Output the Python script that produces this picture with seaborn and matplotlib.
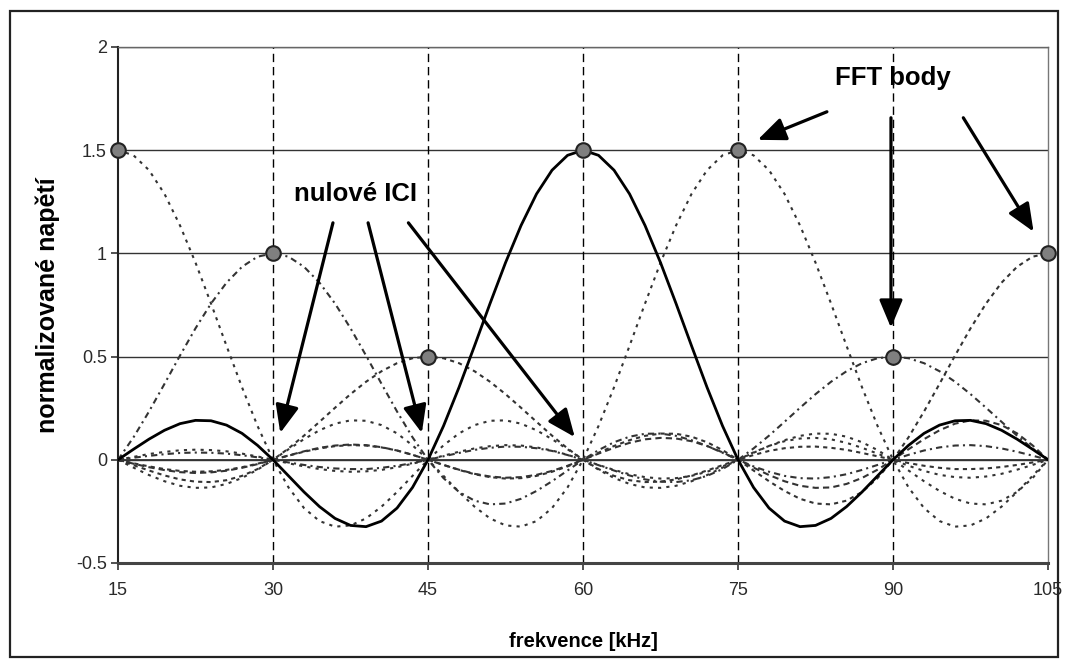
import matplotlib
matplotlib.use("Agg")
import matplotlib.pyplot as plt
import seaborn as sns
import pandas as pd
from matplotlib.patches import Rectangle

sns.set_style("white")
plt.rcParams['font.family'] = ['Liberation Sans', 'DejaVu Sans']
plt.rcParams['text.color'] = 'black'

# frekvence [kHz]
freq = [15, 16.5, 18, 19.5, 21, 22.5, 24, 25.5, 27, 28.5, 30,
        31.5, 33, 34.5, 36, 37.5, 39, 40.5, 42, 43.5, 45,
        46.5, 48, 49.5, 51, 52.5, 54, 55.5, 57, 58.5, 60,
        61.5, 63, 64.5, 66, 67.5, 69, 70.5, 72, 73.5, 75,
        76.5, 78, 79.5, 81, 82.5, 84, 85.5, 87, 88.5, 90,
        91.5, 93, 94.5, 96, 97.5, 99, 100.5, 102, 103.5, 105]

# subnosne
c15 = [1.5, 1.475, 1.403, 1.288, 1.135, 0.955, 0.757, 0.552, 0.351, 0.164, 0,
       -0.134, -0.234, -0.297, -0.324, -0.318, -0.284, -0.227, -0.156, -0.078, 0,
       0.070, 0.128, 0.168, 0.189, 0.191, 0.175, 0.143, 0.100, 0.051, 0,
       -0.048, -0.088, -0.117, -0.134, -0.136, -0.126, -0.104, -0.074, -0.038, 0,
       0.036, 0.067, 0.090, 0.103, 0.106, 0.099, 0.082, 0.058, 0.030, 0,
       -0.029, -0.054, -0.073, -0.084, -0.087, -0.081, -0.068, -0.048, -0.025, 0]
c30 = [0, 0.109, 0.234, 0.368, 0.505, 0.637, 0.757, 0.858, 0.935, 0.984, 1.0,
       0.984, 0.935, 0.858, 0.757, 0.637, 0.505, 0.368, 0.234, 0.109, 0,
       -0.089, -0.156, -0.198, -0.216, -0.212, -0.189, -0.151, -0.104, -0.052, 0,
       0.047, 0.085, 0.112, 0.126, 0.127, 0.116, 0.095, 0.067, 0.034, 0,
       -0.032, -0.058, -0.078, -0.089, -0.091, -0.084, -0.070, -0.049, -0.025, 0,
       0.024, 0.045, 0.060, 0.069, 0.071, 0.066, 0.055, 0.039, 0.020, 0]
c45 = [0, -0.026, -0.052, -0.076, -0.095, -0.106, -0.108, -0.099, -0.078, -0.045, 0,
       0.055, 0.117, 0.184, 0.252, 0.318, 0.378, 0.429, 0.468, 0.492, 0.5,
       0.492, 0.468, 0.429, 0.378, 0.318, 0.252, 0.184, 0.117, 0.055, 0,
       -0.045, -0.078, -0.099, -0.108, -0.106, -0.095, -0.076, -0.052, -0.026, 0,
       0.023, 0.043, 0.056, 0.063, 0.064, 0.058, 0.048, 0.033, 0.017, 0,
       -0.016, -0.029, -0.039, -0.045, -0.045, -0.042, -0.035, -0.025, -0.013, 0]
c60 = [0, 0.051, 0.100, 0.143, 0.175, 0.191, 0.189, 0.168, 0.128, 0.070, 0,
       -0.078, -0.156, -0.227, -0.284, -0.318, -0.324, -0.297, -0.234, -0.134, 0,
       0.164, 0.351, 0.552, 0.757, 0.955, 1.135, 1.288, 1.403, 1.475, 1.5,
       1.475, 1.403, 1.288, 1.135, 0.955, 0.757, 0.552, 0.351, 0.164, 0,
       -0.134, -0.234, -0.297, -0.324, -0.318, -0.284, -0.227, -0.156, -0.078, 0,
       0.070, 0.128, 0.168, 0.189, 0.191, 0.175, 0.143, 0.100, 0.051, 0]
c75 = [0, -0.038, -0.074, -0.104, -0.126, -0.136, -0.134, -0.117, -0.088, -0.048, 0,
       0.051, 0.100, 0.143, 0.175, 0.191, 0.189, 0.168, 0.128, 0.070, 0,
       -0.078, -0.156, -0.227, -0.284, -0.318, -0.324, -0.297, -0.234, -0.134, 0,
       0.164, 0.351, 0.552, 0.757, 0.955, 1.135, 1.288, 1.403, 1.475, 1.5,
       1.475, 1.403, 1.288, 1.135, 0.955, 0.757, 0.552, 0.351, 0.164, 0,
       -0.134, -0.234, -0.297, -0.324, -0.318, -0.284, -0.227, -0.156, -0.078, 0]
c90 = [0, 0.010, 0.019, 0.027, 0.033, 0.035, 0.034, 0.030, 0.022, 0.012, 0,
       -0.013, -0.025, -0.035, -0.042, -0.045, -0.045, -0.039, -0.029, -0.016, 0,
       0.017, 0.033, 0.048, 0.058, 0.064, 0.063, 0.056, 0.043, 0.023, 0,
       -0.026, -0.052, -0.076, -0.095, -0.106, -0.108, -0.099, -0.078, -0.045, 0,
       0.055, 0.117, 0.184, 0.252, 0.318, 0.378, 0.429, 0.468, 0.492, 0.5,
       0.492, 0.468, 0.429, 0.378, 0.318, 0.252, 0.184, 0.117, 0.055, 0]
c105 = [0, -0.017, -0.032, -0.045, -0.054, -0.058, -0.056, -0.049, -0.036, -0.019, 0,
        0.020, 0.039, 0.055, 0.066, 0.071, 0.069, 0.060, 0.045, 0.024, 0,
        -0.025, -0.049, -0.070, -0.084, -0.091, -0.089, -0.078, -0.058, -0.032, 0,
        0.034, 0.067, 0.095, 0.116, 0.127, 0.126, 0.112, 0.085, 0.047, 0,
        -0.052, -0.104, -0.151, -0.189, -0.212, -0.216, -0.198, -0.156, -0.089, 0,
        0.109, 0.234, 0.368, 0.505, 0.637, 0.757, 0.858, 0.935, 0.984, 1.0]
c120 = [0, 0.014, 0.028, 0.038, 0.046, 0.049, 0.047, 0.041, 0.030, 0.016, 0,
        -0.017, -0.032, -0.045, -0.054, -0.058, -0.056, -0.049, -0.036, -0.019, 0,
        0.020, 0.039, 0.055, 0.066, 0.071, 0.069, 0.060, 0.045, 0.024, 0,
        -0.025, -0.049, -0.070, -0.084, -0.091, -0.089, -0.078, -0.058, -0.032, 0,
        0.034, 0.067, 0.095, 0.116, 0.127, 0.126, 0.112, 0.085, 0.047, 0,
        -0.052, -0.104, -0.151, -0.189, -0.212, -0.216, -0.198, -0.156, -0.089, 0]
c135 = [0, -0.019, -0.036, -0.050, -0.060, -0.064, -0.061, -0.053, -0.039, -0.021, 0,
        0.021, 0.041, 0.058, 0.069, 0.074, 0.071, 0.061, 0.045, 0.024, 0,
        -0.025, -0.048, -0.068, -0.081, -0.087, -0.084, -0.073, -0.054, -0.029, 0,
        0.030, 0.058, 0.082, 0.099, 0.106, 0.103, 0.090, 0.067, 0.036, 0,
        -0.038, -0.074, -0.104, -0.126, -0.136, -0.134, -0.117, -0.088, -0.048, 0,
        0.051, 0.100, 0.143, 0.175, 0.191, 0.189, 0.168, 0.128, 0.070, 0]

# FFT body (vrcholy)
peak_f = [15, 30, 45, 60, 75, 90, 105]
peak_v = [1.5, 1.0, 0.5, 1.5, 1.5, 0.5, 1.0]

x_ticks = [15, 30, 45, 60, 75, 90, 105]
y_ticks = [-0.5, 0, 0.5, 1, 1.5, 2]
y_labels = ['-0.5', '0', '0.5', '1', '1.5', '2']
v_lines = [30, 45, 60, 75, 90]

dotted = {
    'c15': (c15, (0, (1.5, 2.5))),
    'c30': (c30, (0, (3, 2, 1, 2))),
    'c45': (c45, (0, (2, 2))),
    'c75': (c75, (0, (1.5, 2.5))),
    'c90': (c90, (0, (3, 2, 1, 2))),
    'c105': (c105, (0, (2, 2))),
    'c120': (c120, (0, (1.5, 2.5))),
    'c135': (c135, (0, (3, 2))),
}

fig = plt.figure(figsize=(10.69, 6.68), dpi=100)
ax = fig.add_axes([0.1104, 0.1572, 0.870, 0.7725])

# ramecek kolem celeho obrazku
fig.patches.append(Rectangle((0.0094, 0.0165), 0.9804, 0.967, transform=fig.transFigure,
                             fill=False, edgecolor='#222222', lw=1.6))

for name, (vals, ls) in dotted.items():
    df = pd.DataFrame({'f': freq, 'u': vals})
    sns.lineplot(data=df, x='f', y='u', ax=ax, color='#333333', lw=1.5,
                 linestyle=ls, zorder=3)

df60 = pd.DataFrame({'f': freq, 'u': c60})
sns.lineplot(data=df60, x='f', y='u', ax=ax, color='black', lw=2.0, zorder=4)

sns.scatterplot(x=peak_f, y=peak_v, ax=ax, s=110, color='#7f7f7f',
                edgecolor='#222222', linewidth=1.5, zorder=6, clip_on=False)

for v in v_lines:
    ax.axvline(v, color='black', lw=1.0, linestyle=(0, (6, 3.5)), zorder=2)

ax.set_xlim(15, 105)
ax.set_ylim(-0.5, 2)
ax.set_xticks(x_ticks)
ax.set_yticks(y_ticks)
ax.set_yticklabels(y_labels)
ax.yaxis.grid(True, color='#333333', lw=1.0, zorder=1)
ax.set_axisbelow(True)
ax.axhline(0, color='#333333', lw=1.3, zorder=2)

ax.tick_params(axis='both', direction='out', length=5, width=1.2, color='#333333',
               labelsize=13, labelcolor='#2a2a2a', left=True, bottom=True)
ax.tick_params(axis='x', pad=9)
ax.tick_params(axis='y', pad=3)

ax.spines['left'].set_color('#222222')
ax.spines['left'].set_linewidth(1.5)
ax.spines['bottom'].set_color('#444444')
ax.spines['bottom'].set_linewidth(2.2)
ax.spines['top'].set_color('#666666')
ax.spines['right'].set_color('#777777')
ax.spines['top'].set_linewidth(1.0)
ax.spines['right'].set_linewidth(1.0)

ax.set_xlabel('frekvence [kHz]', fontsize=14.5, fontweight='bold', color='black')
ax.xaxis.set_label_coords(0.5, -0.134)
ax.set_ylabel('normalizované napětí', fontsize=18, fontweight='bold', va='center', color='black')
ax.yaxis.set_label_coords(-0.076, 0.5)

# popisky se sipkami
ax.text(38.0, 1.29, 'nulové ICI', fontsize=18.5, fontweight='bold', ha='center', va='center',
        color='black', zorder=8)
ax.text(90.0, 1.85, 'FFT body', fontsize=18.5, fontweight='bold', ha='center', va='center',
        color='black', zorder=8)

arrow_kw = dict(arrowstyle='-|>,head_length=1.0,head_width=0.42', color='black',
                lw=2.3, mutation_scale=17, shrinkA=0, shrinkB=0)
ici_arrows = [((35.8, 1.148), (30.7, 0.13)),
              ((39.2, 1.148), (44.4, 0.13)),
              ((43.1, 1.148), (59.2, 0.11))]
fft_arrows = [((83.6, 1.686), (76.9, 1.55)),
              ((89.8, 1.657), (89.8, 0.64)),
              ((96.8, 1.657), (103.6, 1.105))]
for start, end in ici_arrows + fft_arrows:
    ax.annotate('', xy=end, xytext=start, arrowprops=arrow_kw, zorder=7)

fig.savefig('out.png', dpi=100)
